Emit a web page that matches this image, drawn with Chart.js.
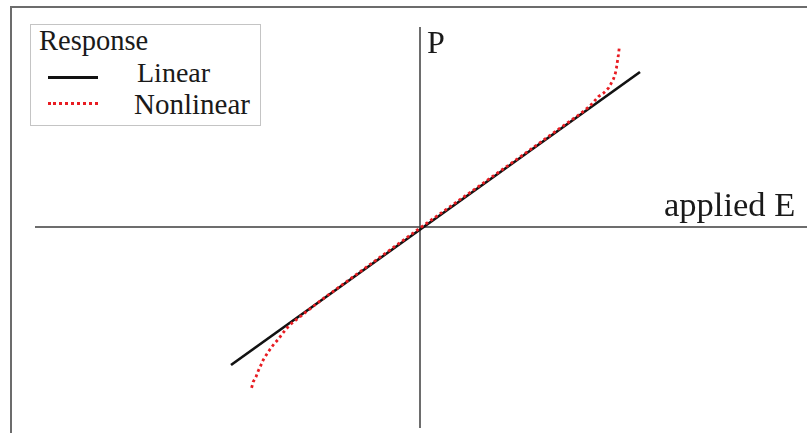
<!DOCTYPE html>
<html>
<head>
<meta charset="utf-8">
<script src="https://cdn.jsdelivr.net/npm/chart.js@4"></script>
<style>
  html, body { margin: 0; padding: 0; background: #fff; overflow: hidden; }
  #wrap { position: relative; width: 807px; height: 433px; }
  #plot { position: absolute; left: 0; top: 0; }
  #frame {
    position: absolute; left: 10px; top: 6px; width: 820px; height: 460px;
    border-left: 2px solid #6c6c6c; border-top: 2px solid #6c6c6c;
    pointer-events: none;
  }
  .txt { position: absolute; font-family: "Liberation Serif", "Times New Roman", serif;
         color: #1a1a1a; line-height: 1; white-space: nowrap; }
  #legend {
    position: absolute; left: 30px; top: 24px; width: 229px; height: 100px;
    border: 1px solid #c4c4c4; background: #fff;
  }
  .swatch { position: absolute; width: 50px; height: 0; }
</style>
</head>
<body>
<div id="wrap">
  <canvas id="plot" width="807" height="433"></canvas>
  <div id="frame"></div>
  <div id="legend"></div>
  <div class="txt" id="ylabel" style="left:427px; top:26px; font-size:32px;"></div>
  <div class="txt" id="xlabel" style="left:664px; top:187px; font-size:34.5px;"></div>
</div>
<script>
// field units: E along x, P along y, origin where the two axes cross
const xRange = [-2.1, 1.935];
const yRange = [-1.03, 1.135];

const axisLabels = ["applied E", "P"];
const legendTitle = "Response";
const seriesNames = ["Linear", "Nonlinear"];

// straight dielectric response
const linearE = [-0.945, 1.1];
const linearP = [-0.69, 0.775];

// response that bends away near both ends
const nonlinearE = [-0.842, -0.834, -0.82, -0.809, -0.797, -0.784, -0.767, -0.75, -0.73,
  -0.709, -0.687, -0.667, -0.642, -0.5, 0, 0.5, 0.7, 0.8, 0.85, 0.892, 0.917, 0.942,
  0.954, 0.967, 0.977, 0.982, 0.987, 0.992, 0.997];
const nonlinearP = [-0.804, -0.774, -0.749, -0.72, -0.694, -0.665, -0.637, -0.612, -0.585,
  -0.562, -0.532, -0.507, -0.482, -0.37, -0.005, 0.35, 0.494, 0.565, 0.605, 0.652, 0.669,
  0.694, 0.715, 0.739, 0.769, 0.794, 0.827, 0.86, 0.902];

// the crossing axes drawn inside the frame
const hAxisE = [-1.925, 1.935];
const vAxisP = [-1.005, 1.0];

const toPoints = (xs, ys) => xs.map((x, i) => ({ x: x, y: ys[i] }));

const datasets = [
  {
    label: seriesNames[1],
    data: toPoints(nonlinearE, nonlinearP),
    borderColor: "rgb(232,28,34)",
    borderWidth: 2.8,
    borderDash: [2.8, 3],
    order: 0,
  },
  {
    label: seriesNames[0],
    data: toPoints(linearE, linearP),
    borderColor: "#121212",
    borderWidth: 2.7,
    order: 1,
  },
  {
    label: "E axis",
    data: toPoints(hAxisE, [0, 0]),
    borderColor: "#3c3c3c",
    borderWidth: 1.5,
    order: 2,
  },
  {
    label: "P axis",
    data: toPoints([0, 0], vAxisP),
    borderColor: "#3c3c3c",
    borderWidth: 1.5,
    order: 2,
  },
];

new Chart(document.getElementById("plot"), {
  type: "scatter",
  data: { datasets: datasets },
  options: {
    responsive: false,
    animation: false,
    showLine: true,
    layout: { padding: 0 },
    elements: {
      point: { radius: 0, hoverRadius: 0 },
      line: { tension: 0, fill: false },
    },
    plugins: { legend: { display: false }, tooltip: { enabled: false } },
    scales: {
      x: { type: "linear", display: false, min: xRange[0], max: xRange[1] },
      y: { type: "linear", display: false, min: yRange[0], max: yRange[1] },
    },
  },
});

document.getElementById("xlabel").textContent = axisLabels[0];
document.getElementById("ylabel").textContent = axisLabels[1];

// legend box: title plus one row per series
const legend = document.getElementById("legend");
legend.innerHTML =
  `<div class="txt" style="left:8px; top:2px; font-size:28.5px;">${legendTitle}</div>` +
  `<div class="swatch" style="left:17px; top:51px; border-top:3px solid #121212;"></div>` +
  `<div class="txt" style="left:106px; top:34px; font-size:28px;">${seriesNames[0]}</div>` +
  `<div class="swatch" style="left:17px; top:77px; border-top:3px dotted rgb(232,28,34);"></div>` +
  `<div class="txt" style="left:103px; top:65px; font-size:29px;">${seriesNames[1]}</div>`;
</script>
</body>
</html>
